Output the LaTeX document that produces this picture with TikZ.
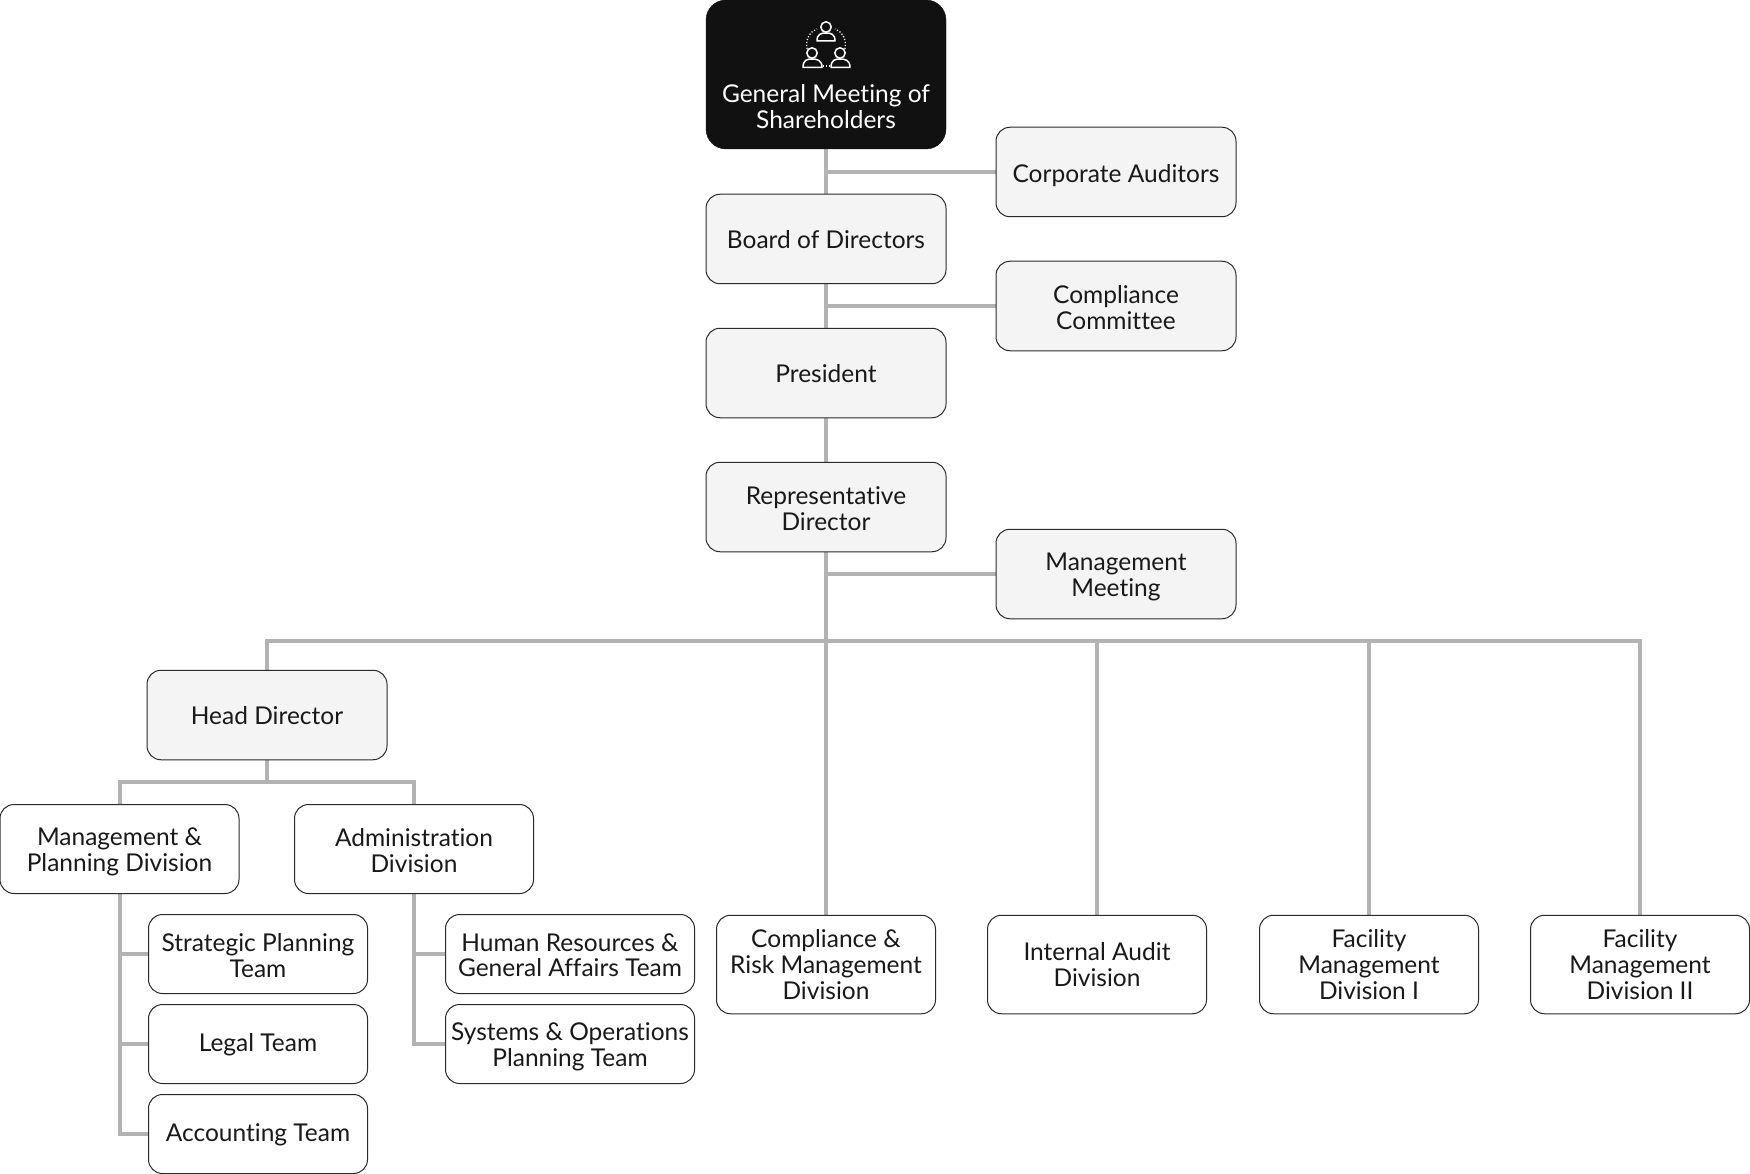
\documentclass[tikz,border=0pt]{standalone}
\usepackage{fontspec}
\setmainfont{Lato}[Ligatures=CommonOff]
\usetikzlibrary{backgrounds}
\definecolor{linegray}{HTML}{B3B3B3}
\definecolor{boxfill}{HTML}{F4F4F4}
\definecolor{boxdark}{HTML}{111111}
\definecolor{boxline}{HTML}{2A2A2A}
\newcommand{\firstline}[1]{\rule{0pt}{#1}}
\tikzset{
  x=1pt,y=-1pt,
  nudge/.style={execute at begin node={\rule{0pt}{#1}}},
  basebox/.style={rectangle,rounded corners=14pt,draw=boxline,line width=1pt,align=center,inner sep=0pt,outer sep=0pt,
    font=\fontsize{24.5}{25.8}\selectfont,text=black!90,
    nudge=20pt,
    execute at end node={\rule[-2.4pt]{0pt}{2.4pt}}},
  gray box/.style={basebox,fill=boxfill,minimum width=240pt,minimum height=89.5pt},
  white box/.style={basebox,fill=white},
  divbox/.style={white box,minimum width=239pt,minimum height=89pt},
  teambox/.style={white box,minimum width=219pt,minimum height=79pt},
  teamwide/.style={white box,minimum width=249pt,minimum height=79pt},
  lowerbox/.style={white box,minimum width=219pt,minimum height=98.5pt},
  dark box/.style={rectangle,rounded corners=20pt,fill=boxdark,draw=boxdark,inner sep=0pt,minimum width=240pt,minimum height=149pt},
  darktext/.style={font=\fontsize{24.5}{25.8}\selectfont,text=white,align=center,inner sep=0pt},
  conn/.style={draw=linegray,line width=4pt},
  icon/.style={draw=white,line width=1.5pt,line join=round},
  icondots/.style={draw=white,line width=1.3pt,dash pattern=on 1.2pt off 1.8pt},
}
\begin{document}
\begin{tikzpicture}
\useasboundingbox (0,0) rectangle (1750,1174);
\node[dark box] (gm) at (826,74.5) {};
\node[darktext] (gmt) at (826,106.5) {General Meeting of\\Shareholders};
% icon
\draw[icon] (826,27) circle (5.2);
\draw[icon] (817,41) .. controls (817,34) and (821,33) .. (826,33) .. controls (831,33) and (835,34) .. (835,41) -- cycle;
\draw[icon] (812,53) circle (5.2);
\draw[icon] (803,67.5) .. controls (803,60) and (807,59) .. (812,59) .. controls (817,59) and (822,60) .. (822,67.5) -- cycle;
\draw[icon] (840,53) circle (5.2);
\draw[icon] (831,67.5) .. controls (831,60) and (835,59) .. (840,59) .. controls (845,59) and (850,60) .. (850,67.5) -- cycle;
\draw[icondots] (807,49) .. controls (805,38) and (811,31) .. (817,29);
\draw[icondots] (845,49) .. controls (847,38) and (841,31) .. (835,29);
\draw[icondots] (823,66) -- (831,66);

\node[gray box,nudge=22pt] (board) at (826,239) {Board of Directors};
\node[gray box,nudge=25pt] (auditors) at (1116,172) {Corporate Auditors};
\node[gray box] (committee) at (1116,306) {\firstline{23pt}Compliance\\Committee};
\node[gray box,nudge=22pt] (president) at (826,373) {President};
\node[gray box] (rep) at (826,507) {\firstline{23pt}Representative\\Director};
\node[gray box] (meeting) at (1116,574) {\firstline{24pt}Management\\Meeting};
\node[gray box,nudge=22pt] (head) at (267,715) {Head Director};

\node[divbox] (mgmt) at (119.5,849) {\firstline{23pt}Management \&\\Planning Division};
\node[divbox] (admin) at (414,849) {\firstline{23pt}Administration\\Division};

\node[teambox] (strategic) at (258,954) {\firstline{23pt}Strategic Planning\\Team};
\node[teambox] (legal) at (258,1044) {Legal Team};
\node[teambox] (accounting) at (258,1134) {Accounting Team};
\node[teamwide] (hr) at (570,954) {\firstline{22.5pt}Human Resources \&\\General Affairs Team};
\node[teamwide] (systems) at (570,1044) {\firstline{24pt}Systems \& Operations\\Planning Team};

\node[lowerbox] (risk) at (826,964.5) {\firstline{20.5pt}Compliance \&\\Risk Management\\Division};
\node[lowerbox] (audit) at (1097,964.5) {\firstline{20.5pt}Internal Audit\\Division};
\node[lowerbox] (fac1) at (1369,964.5) {\firstline{20.5pt}Facility\\Management\\Division I};
\node[lowerbox] (fac2) at (1640,964.5) {\firstline{20.5pt}Facility\\Management\\Division II};

\coordinate (bus) at (826,641);
\coordinate (headbus) at (267,782);

\begin{scope}[on background layer]
  \draw[conn] (gm.south) -- (board.north);
  \draw[conn] (auditors.west) -- (auditors.west -| gm.south);
  \draw[conn] (board.south) -- (president.north);
  \draw[conn] (committee.west) -- (committee.west -| board.south);
  \draw[conn] (president.south) -- (rep.north);
  \draw[conn] (rep.south) -- (risk.north);
  \draw[conn] (meeting.west) -- (meeting.west -| rep.south);
  \draw[conn] (head.north) |- (bus) -| (fac2.north);
  \draw[conn] (audit.north) -- (audit.north |- bus);
  \draw[conn] (fac1.north) -- (fac1.north |- bus);
  \draw[conn] (head.south) -- (headbus);
  \draw[conn] (mgmt.north) |- (headbus) -| (admin.north);
  \draw[conn] (mgmt.south) |- (accounting.west);
  \draw[conn] (strategic.west) -- (strategic.west -| mgmt.south);
  \draw[conn] (legal.west) -- (legal.west -| mgmt.south);
  \draw[conn] (admin.south) |- (systems.west);
  \draw[conn] (hr.west) -- (hr.west -| admin.south);
\end{scope}
\end{tikzpicture}
\end{document}
